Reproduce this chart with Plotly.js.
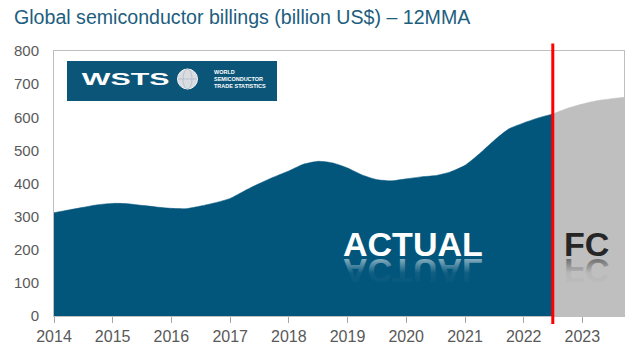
<!DOCTYPE html>
<html>
<head>
<meta charset="utf-8">
<script src="https://cdn.plot.ly/plotly-3.0.1.min.js"></script>
<style>html,body{margin:0;padding:0;background:#fff;}#chart{width:635px;height:356px;}</style>
</head>
<body>
<div id="chart"></div>
<script>
// Actual 12-month moving average billings (billion US$)
const actualDates = ['2014-01-01','2014-04-01','2014-07-01','2014-10-01',
  '2015-01-01','2015-04-01','2015-07-01','2015-10-01',
  '2016-01-01','2016-04-01','2016-07-01','2016-10-01',
  '2017-01-01','2017-04-01','2017-07-01','2017-10-01',
  '2018-01-01','2018-04-01','2018-07-01','2018-10-01',
  '2019-01-01','2019-04-01','2019-07-01','2019-10-01',
  '2020-01-01','2020-04-01','2020-07-01','2020-10-01',
  '2021-01-01','2021-04-01','2021-07-01','2021-10-01',
  '2022-01-01','2022-04-01','2022-07-01'];
const actualValues = [312,320,328,336,
  340,339,334,329,
  325,324,332,342,
  355,378,400,420,
  438,458,467,462,
  447,426,412,408,
  414,420,424,435,
  455,490,530,565,
  583,598,610];
// Forecast
const fcDates = ['2022-07-01','2022-10-01','2023-01-01','2023-04-01','2023-07-01','2023-10-01'];
const fcValues = [610,627,640,650,656,661];
const yearTicks = ['2014','2015','2016','2017','2018','2019','2020','2021','2022','2023'];
const splitDate = '2022-07-01';

const title = 'Global semiconductor billings (billion US$) – 12MMA';
const labelActual = 'ACTUAL';
const labelFC = 'FC';
const logoMark = 'WSTS';
const logoText = 'WORLD<br>SEMICONDUCTOR<br>TRADE STATISTICS';

const blue = '#02557B';
const grey = '#BFBFBF';

const traces = [
  {x: actualDates, y: actualValues, type: 'scatter', mode: 'lines', fill: 'tozeroy',
   fillcolor: blue, line: {color: blue, width: 0.5, shape: 'spline', smoothing: 0.6}, hoverinfo: 'skip'},
  {x: fcDates, y: fcValues, type: 'scatter', mode: 'lines', fill: 'tozeroy',
   fillcolor: grey, line: {color: grey, width: 0.5, shape: 'spline', smoothing: 0.6}, hoverinfo: 'skip'}
];

// plot area pixel helpers (for decorations only)
const L = 54, R = 11, T = 51, B = 40, W = 635, H = 356;
const pw = W - L - R, ph = H - T - B;
const px = v => (v - L) / pw;
const py = v => (H - B - v) / ph;

const layout = {
  width: W, height: H,
  margin: {l: L, r: R, t: T, b: B},
  paper_bgcolor: '#fff', plot_bgcolor: '#fff',
  showlegend: false, hovermode: false,
  font: {family: 'Liberation Sans, Arial, sans-serif', color: '#595959'},
  title: {text: title, x: 14 / W, xanchor: 'left', xref: 'container',
          y: 1 - 17 / H, yanchor: 'middle', yref: 'container',
          font: {size: 19.6, color: '#1D5E7E', family: 'Liberation Sans, Arial, sans-serif'}},
  xaxis: {type: 'date', range: ['2014-01-01', '2023-09-17'],
          tickvals: yearTicks.map(y => y + '-01-01'), ticktext: yearTicks,
          ticks: 'outside', ticklen: 6, tickcolor: '#A6A6A6',
          showline: true, linecolor: '#BFBFBF', linewidth: 1, mirror: true,
          showgrid: false, zeroline: false, fixedrange: true,
          tickfont: {size: 16, color: '#595959'}},
  yaxis: {range: [0, 800], dtick: 100, ticks: '', showgrid: false, zeroline: false,
          showline: true, linecolor: '#BFBFBF', linewidth: 1, mirror: true,
          ticklabelstandoff: 11, fixedrange: true,
          tickfont: {size: 15, color: '#595959'}},
  shapes: [
    {type: 'line', xref: 'x', yref: 'paper', x0: splitDate, x1: splitDate, y0: -0.03, y1: 1.028,
     line: {color: '#FF0000', width: 3}, layer: 'above'},
    {type: 'rect', xref: 'paper', yref: 'paper', x0: px(67), x1: px(277), y0: py(101), y1: py(61),
     fillcolor: '#0B5678', line: {width: 0}, layer: 'above'},
    {type: 'circle', xref: 'paper', yref: 'paper', x0: px(177.5), x1: px(197.5), y0: py(89), y1: py(69),
     fillcolor: '#D9DDE2', line: {color: '#F4F6F8', width: 1}, layer: 'above'},
    {type: 'circle', xref: 'paper', yref: 'paper', x0: px(183), x1: px(192), y0: py(89), y1: py(69),
     fillcolor: 'rgba(0,0,0,0)', line: {color: '#AEB6BF', width: 0.7}, layer: 'above'},
    {type: 'line', xref: 'paper', yref: 'paper', x0: px(178), x1: px(197), y0: py(79), y1: py(79),
     line: {color: '#AEB6BF', width: 0.7}, layer: 'above'}
  ],
  annotations: [
    {text: '<b>' + logoMark + '</b>', xref: 'paper', yref: 'paper', x: px(126), y: py(79),
     xanchor: 'center', yanchor: 'middle', showarrow: false,
     font: {size: 16, color: '#fff', family: 'Liberation Sans, Arial, sans-serif'}},
    {text: '<b>' + logoText + '</b>', xref: 'paper', yref: 'paper', x: px(212), y: py(79),
     xanchor: 'left', yanchor: 'middle', align: 'left', showarrow: false,
     font: {size: 5.5, color: '#fff', family: 'Liberation Sans, Arial, sans-serif'}},
    {text: '<b>' + labelActual + '</b>', xref: 'paper', yref: 'paper', x: px(413), y: py(244),
     xanchor: 'center', yanchor: 'middle', showarrow: false, borderpad: 0,
     font: {size: 34, color: '#FFFFFF', family: 'Liberation Sans, Arial, sans-serif'}},
    {text: '<b>' + labelFC + '</b>', xref: 'paper', yref: 'paper', x: px(586), y: py(244),
     xanchor: 'center', yanchor: 'middle', showarrow: false, borderpad: 0,
     font: {size: 34, color: '#262626', family: 'Liberation Sans, Arial, sans-serif'}},
    {text: '<b>' + labelActual + '</b>', xref: 'paper', yref: 'paper', x: px(413), y: py(271),
     xanchor: 'center', yanchor: 'middle', showarrow: false, borderpad: 0,
     font: {size: 34, color: '#FFFFFF', family: 'Liberation Sans, Arial, sans-serif'}},
    {text: '<b>' + labelFC + '</b>', xref: 'paper', yref: 'paper', x: px(586), y: py(271),
     xanchor: 'center', yanchor: 'middle', showarrow: false, borderpad: 0,
     font: {size: 34, color: '#262626', family: 'Liberation Sans, Arial, sans-serif'}}
  ]
};

Plotly.newPlot('chart', traces, layout, {displayModeBar: false, staticPlot: true}).then(gd => {
  const ns = 'http://www.w3.org/2000/svg';
  function addGrad(svg, id, color) {
    let defs = svg.querySelector('defs');
    if (!defs) { defs = document.createElementNS(ns, 'defs'); svg.insertBefore(defs, svg.firstChild); }
    const g = document.createElementNS(ns, 'linearGradient');
    g.setAttribute('id', id); g.setAttribute('x1', '0'); g.setAttribute('y1', '0');
    g.setAttribute('x2', '0'); g.setAttribute('y2', '1');
    [[0, 0], [0.45, 0.05], [1, 0.75]].forEach(([o, a]) => {
      const s = document.createElementNS(ns, 'stop');
      s.setAttribute('offset', o); s.setAttribute('stop-color', color); s.setAttribute('stop-opacity', a);
      g.appendChild(s);
    });
    defs.appendChild(g);
  }
  function flip(idx, gradId, color) {
    const g = gd.querySelector('g.annotation[data-index="' + idx + '"]');
    if (!g) return;
    const svg = g.ownerSVGElement;
    addGrad(svg, gradId, color);
    const t = g.querySelector('text');
    if (t) { t.style.setProperty('fill', 'url(#' + gradId + ')'); t.style.setProperty('fill-opacity', '1'); }
    const bb = g.getBBox();
    const cy = bb.y + bb.height / 2;
    g.setAttribute('transform', 'translate(0,' + (2 * cy) + ') scale(1,-1)');
  }
  function stretch(idx, s) {
    const g = gd.querySelector('g.annotation[data-index="' + idx + '"]');
    if (!g) return;
    const bb = g.getBBox();
    const cx = bb.x + bb.width / 2;
    g.setAttribute('transform', 'translate(' + (cx * (1 - s)) + ',0) scale(' + s + ',1)');
  }
  flip(4, 'reflWhite', '#FFFFFF');
  flip(5, 'reflDark', '#262626');
  stretch(0, 1.9);
});
</script>
</body>
</html>
